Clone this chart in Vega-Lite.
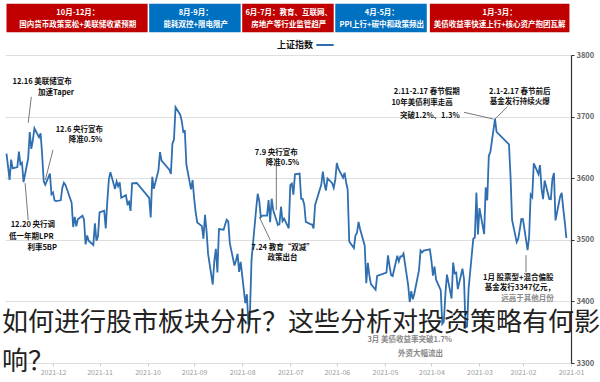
{
  "$schema": "https://vega.github.io/schema/vega-lite/v6.json",
  "width": 566,
  "height": 308,
  "autosize": {"type": "none"},
  "padding": {"left": 5, "top": 55, "right": 29, "bottom": 19},
  "background": "white",
  "config": {"font": "Noto Sans CJK SC", "view": {"stroke": null}},
  "title": {
    "text": ["如何进行股市板块分析？这些分析对投资策略有何影", "响？"],
    "orient": "bottom",
    "anchor": "start",
    "frame": "group",
    "font": "Noto Sans CJK SC",
    "fontSize": 26,
    "fontWeight": "normal",
    "color": "#222222",
    "lineHeight": 39,
    "baseline": "top",
    "offset": 0,
    "dx": -3,
    "dy": -65
  },
  "datasets": {
    "boxes": [
      {"s": "2021-01-02", "e": "2021-04-02", "c": "#c00000"},
      {"s": "2021-04-04", "e": "2021-06-02", "c": "#0070c0"},
      {"s": "2021-06-03", "e": "2021-08-01", "c": "#c00000"},
      {"s": "2021-08-02", "e": "2021-09-30", "c": "#0070c0"},
      {"s": "2021-10-01", "e": "2021-12-31", "c": "#c00000"}
    ],
    "boxtext": [
      {"d": "2021-02-16", "v": 3868, "t": "1月-3月："},
      {"d": "2021-02-16", "v": 3849, "t": "美债收益率快速上行+核心资产抱团瓦解"},
      {"d": "2021-05-03", "v": 3868, "t": "4月-5月："},
      {"d": "2021-05-03", "v": 3849, "t": "PPI上行+碳中和政策频出"},
      {"d": "2021-07-02", "v": 3868, "t": "6月-7月：教育、互联网、"},
      {"d": "2021-07-02", "v": 3849, "t": "房地产等行业监管趋严"},
      {"d": "2021-08-31", "v": 3868, "t": "8月-9月："},
      {"d": "2021-08-31", "v": 3849, "t": "能耗双控+限电限产"},
      {"d": "2021-11-15", "v": 3868, "t": "10月-12月："},
      {"d": "2021-11-15", "v": 3849, "t": "国内货币政策宽松+美联储收紧预期"}
    ],
    "notes": [
      {"d": "2021-12-08", "v": 3756, "t": "12.16 美联储宣布", "c": "#111111"},
      {"d": "2021-11-29", "v": 3738, "t": "加速Taper", "c": "#111111"},
      {"d": "2021-11-14", "v": 3678, "t": "12.6 央行宣布", "c": "#111111"},
      {"d": "2021-11-10", "v": 3662, "t": "降准0.5%", "c": "#111111"},
      {"d": "2021-12-14", "v": 3524, "t": "12.20 央行调", "c": "#111111"},
      {"d": "2021-12-15", "v": 3505, "t": "低一年期LPR", "c": "#111111"},
      {"d": "2021-12-08", "v": 3487, "t": "利率5BP", "c": "#111111"},
      {"d": "2021-07-10", "v": 3641, "t": "7.9 央行宣布", "c": "#111111"},
      {"d": "2021-07-06", "v": 3625, "t": "降准0.5%", "c": "#111111"},
      {"d": "2021-07-06", "v": 3487, "t": "7.24 教育“双减”", "c": "#111111"},
      {"d": "2021-07-06", "v": 3470, "t": "政策出台", "c": "#111111"},
      {"d": "2021-04-04", "v": 3740, "t": "2.11-2.17 春节假期", "c": "#111111"},
      {"d": "2021-04-07", "v": 3722, "t": "10年美债利率走高", "c": "#111111"},
      {"d": "2021-04-02", "v": 3701, "t": "突破1.2%、1.3%", "c": "#111111"},
      {"d": "2021-02-03", "v": 3740, "t": "2.1-2.17 春节前后", "c": "#111111"},
      {"d": "2021-02-03", "v": 3724, "t": "基金发行持续火爆", "c": "#111111"},
      {"d": "2021-02-04", "v": 3438, "t": "1月 股票型+混合偏股", "c": "#111111"},
      {"d": "2021-02-03", "v": 3421, "t": "基金发行3347亿元，", "c": "#111111"},
      {"d": "2021-01-29", "v": 3404, "t": "远高于其他月份", "c": "#888888"},
      {"d": "2021-04-15", "v": 3337, "t": "3月 美债收益率突破1.7%", "c": "#888888"},
      {"d": "2021-04-08", "v": 3315, "t": "外资大幅流出", "c": "#888888"}
    ],
    "leaders": [
      {"d1": "2021-12-15", "v1": 3732, "d2": "2021-12-17", "v2": 3690},
      {"d1": "2021-12-01", "v1": 3646, "d2": "2021-12-06", "v2": 3597},
      {"d1": "2021-12-17", "v1": 3532, "d2": "2021-12-19", "v2": 3592},
      {"d1": "2021-07-10", "v1": 3621, "d2": "2021-07-10", "v2": 3548},
      {"d1": "2021-07-14", "v1": 3500, "d2": "2021-07-21", "v2": 3537},
      {"d1": "2021-03-11", "v1": 3707, "d2": "2021-02-20", "v2": 3696},
      {"d1": "2021-02-11", "v1": 3716, "d2": "2021-02-19", "v2": 3696},
      {"d1": "2021-01-30", "v1": 3475, "d2": "2021-01-30", "v2": 3447}
    ],
    "sse": [
      {"d":"2021-01-04","v":3502.96},{"d":"2021-01-05","v":3528.68},{"d":"2021-01-06","v":3550.88},{"d":"2021-01-07","v":3576.2},{"d":"2021-01-08","v":3570.11},
      {"d":"2021-01-11","v":3531.5},{"d":"2021-01-12","v":3608.34},{"d":"2021-01-13","v":3598.65},{"d":"2021-01-14","v":3565.9},{"d":"2021-01-15","v":3566.38},
      {"d":"2021-01-18","v":3596.22},{"d":"2021-01-19","v":3566.12},{"d":"2021-01-20","v":3583.09},{"d":"2021-01-21","v":3621.26},{"d":"2021-01-22","v":3606.75},
      {"d":"2021-01-25","v":3624.24},{"d":"2021-01-26","v":3569.43},{"d":"2021-01-27","v":3573.34},{"d":"2021-01-28","v":3505.18},{"d":"2021-01-29","v":3483.07},
      {"d":"2021-02-01","v":3533.68},{"d":"2021-02-02","v":3533.72},{"d":"2021-02-03","v":3517.31},{"d":"2021-02-04","v":3501.86},{"d":"2021-02-05","v":3496.33},
      {"d":"2021-02-08","v":3532.44},{"d":"2021-02-09","v":3603.49},{"d":"2021-02-10","v":3655.09},{"d":"2021-02-18","v":3675.36},{"d":"2021-02-19","v":3696.17},
      {"d":"2021-02-22","v":3642.44},{"d":"2021-02-23","v":3636.36},{"d":"2021-02-24","v":3564.08},{"d":"2021-02-25","v":3585.05},{"d":"2021-02-26","v":3509.08},
      {"d":"2021-03-01","v":3551.4},{"d":"2021-03-02","v":3508.59},{"d":"2021-03-03","v":3576.9},{"d":"2021-03-04","v":3503.49},{"d":"2021-03-05","v":3501.99},
      {"d":"2021-03-08","v":3421.41},{"d":"2021-03-09","v":3359.29},{"d":"2021-03-10","v":3357.74},{"d":"2021-03-11","v":3436.83},{"d":"2021-03-12","v":3453.08},
      {"d":"2021-03-15","v":3419.95},{"d":"2021-03-16","v":3446.73},{"d":"2021-03-17","v":3445.55},{"d":"2021-03-18","v":3463.07},{"d":"2021-03-19","v":3404.66},
      {"d":"2021-03-22","v":3443.44},{"d":"2021-03-23","v":3411.51},{"d":"2021-03-24","v":3367.06},{"d":"2021-03-25","v":3363.59},{"d":"2021-03-26","v":3418.33},
      {"d":"2021-03-29","v":3435.3},{"d":"2021-03-30","v":3456.68},{"d":"2021-03-31","v":3441.91},
      {"d":"2021-04-01","v":3466.33},{"d":"2021-04-02","v":3484.39},{"d":"2021-04-06","v":3482.49},{"d":"2021-04-07","v":3479.63},{"d":"2021-04-08","v":3482.56},
      {"d":"2021-04-09","v":3450.68},{"d":"2021-04-12","v":3412.95},{"d":"2021-04-13","v":3403.33},{"d":"2021-04-14","v":3416.64},{"d":"2021-04-15","v":3398.99},
      {"d":"2021-04-16","v":3426.62},{"d":"2021-04-19","v":3477.55},{"d":"2021-04-20","v":3472.94},{"d":"2021-04-21","v":3472.93},{"d":"2021-04-22","v":3465.11},
      {"d":"2021-04-23","v":3474.17},{"d":"2021-04-26","v":3441.17},{"d":"2021-04-27","v":3442.61},{"d":"2021-04-28","v":3457.07},{"d":"2021-04-29","v":3474.9},
      {"d":"2021-04-30","v":3446.86},
      {"d":"2021-05-06","v":3441.28},{"d":"2021-05-07","v":3418.87},{"d":"2021-05-10","v":3427.99},{"d":"2021-05-11","v":3441.85},{"d":"2021-05-12","v":3462.75},
      {"d":"2021-05-13","v":3429.54},{"d":"2021-05-14","v":3490.38},{"d":"2021-05-17","v":3517.62},{"d":"2021-05-18","v":3529.01},{"d":"2021-05-19","v":3510.96},
      {"d":"2021-05-20","v":3506.94},{"d":"2021-05-21","v":3486.56},{"d":"2021-05-24","v":3497.28},{"d":"2021-05-25","v":3581.34},{"d":"2021-05-26","v":3593.36},
      {"d":"2021-05-27","v":3608.85},{"d":"2021-05-28","v":3600.78},{"d":"2021-05-31","v":3615.48},
      {"d":"2021-06-01","v":3624.71},{"d":"2021-06-02","v":3597.14},{"d":"2021-06-03","v":3584.22},{"d":"2021-06-04","v":3591.84},{"d":"2021-06-07","v":3599.54},
      {"d":"2021-06-08","v":3580.11},{"d":"2021-06-09","v":3591.4},{"d":"2021-06-10","v":3610.86},{"d":"2021-06-11","v":3589.75},{"d":"2021-06-15","v":3556.56},
      {"d":"2021-06-16","v":3518.33},{"d":"2021-06-17","v":3525.1},{"d":"2021-06-18","v":3525.6},{"d":"2021-06-21","v":3529.18},{"d":"2021-06-22","v":3557.41},
      {"d":"2021-06-23","v":3566.22},{"d":"2021-06-24","v":3566.65},{"d":"2021-06-25","v":3607.56},{"d":"2021-06-28","v":3606.37},{"d":"2021-06-29","v":3573.18},
      {"d":"2021-06-30","v":3591.2},
      {"d":"2021-07-01","v":3588.78},{"d":"2021-07-02","v":3518.76},{"d":"2021-07-05","v":3534.32},{"d":"2021-07-06","v":3530.26},{"d":"2021-07-07","v":3553.72},
      {"d":"2021-07-08","v":3525.5},{"d":"2021-07-09","v":3524.09},{"d":"2021-07-12","v":3547.84},{"d":"2021-07-13","v":3566.73},{"d":"2021-07-14","v":3528.5},
      {"d":"2021-07-15","v":3564.59},{"d":"2021-07-16","v":3539.3},{"d":"2021-07-19","v":3539.12},{"d":"2021-07-20","v":3536.79},{"d":"2021-07-21","v":3562.7},
      {"d":"2021-07-22","v":3574.73},{"d":"2021-07-23","v":3550.4},{"d":"2021-07-26","v":3467.44},{"d":"2021-07-27","v":3381.18},{"d":"2021-07-28","v":3361.59},
      {"d":"2021-07-29","v":3411.72},{"d":"2021-07-30","v":3397.36},
      {"d":"2021-08-02","v":3464.29},{"d":"2021-08-03","v":3447.99},{"d":"2021-08-04","v":3477.22},{"d":"2021-08-05","v":3466.56},{"d":"2021-08-06","v":3458.23},
      {"d":"2021-08-09","v":3494.63},{"d":"2021-08-10","v":3529.93},{"d":"2021-08-11","v":3532.62},{"d":"2021-08-12","v":3524.74},{"d":"2021-08-13","v":3516.3},
      {"d":"2021-08-16","v":3517.35},{"d":"2021-08-17","v":3446.98},{"d":"2021-08-18","v":3485.29},{"d":"2021-08-19","v":3465.55},{"d":"2021-08-20","v":3427.33},
      {"d":"2021-08-23","v":3477.13},{"d":"2021-08-24","v":3514.47},{"d":"2021-08-25","v":3540.38},{"d":"2021-08-26","v":3501.66},{"d":"2021-08-27","v":3522.16},
      {"d":"2021-08-30","v":3528.15},{"d":"2021-08-31","v":3543.94},
      {"d":"2021-09-01","v":3567.1},{"d":"2021-09-02","v":3597.04},{"d":"2021-09-03","v":3581.73},{"d":"2021-09-06","v":3621.86},{"d":"2021-09-07","v":3676.59},
      {"d":"2021-09-08","v":3675.19},{"d":"2021-09-09","v":3693.13},{"d":"2021-09-10","v":3703.11},{"d":"2021-09-13","v":3715.37},{"d":"2021-09-14","v":3662.6},
      {"d":"2021-09-15","v":3656.22},{"d":"2021-09-16","v":3607.09},{"d":"2021-09-17","v":3613.97},{"d":"2021-09-22","v":3628.49},{"d":"2021-09-23","v":3642.22},
      {"d":"2021-09-24","v":3613.07},{"d":"2021-09-27","v":3582.83},{"d":"2021-09-28","v":3602.22},{"d":"2021-09-29","v":3536.29},{"d":"2021-09-30","v":3568.17},
      {"d":"2021-10-08","v":3592.17},{"d":"2021-10-11","v":3591.71},{"d":"2021-10-12","v":3546.94},{"d":"2021-10-13","v":3561.76},{"d":"2021-10-14","v":3558.28},
      {"d":"2021-10-15","v":3572.37},{"d":"2021-10-18","v":3568.14},{"d":"2021-10-19","v":3593.15},{"d":"2021-10-20","v":3587.0},{"d":"2021-10-21","v":3594.78},
      {"d":"2021-10-22","v":3582.6},{"d":"2021-10-25","v":3609.86},{"d":"2021-10-26","v":3597.64},{"d":"2021-10-27","v":3562.31},{"d":"2021-10-28","v":3518.42},
      {"d":"2021-10-29","v":3547.34},
      {"d":"2021-11-01","v":3544.48},{"d":"2021-11-02","v":3505.63},{"d":"2021-11-03","v":3498.54},{"d":"2021-11-04","v":3526.87},{"d":"2021-11-05","v":3491.57},
      {"d":"2021-11-08","v":3498.63},{"d":"2021-11-09","v":3507.0},{"d":"2021-11-10","v":3492.46},{"d":"2021-11-11","v":3532.79},{"d":"2021-11-12","v":3539.1},
      {"d":"2021-11-15","v":3533.3},{"d":"2021-11-16","v":3521.79},{"d":"2021-11-17","v":3537.37},{"d":"2021-11-18","v":3520.71},{"d":"2021-11-19","v":3560.37},
      {"d":"2021-11-22","v":3582.08},{"d":"2021-11-23","v":3589.09},{"d":"2021-11-24","v":3592.7},{"d":"2021-11-25","v":3584.18},{"d":"2021-11-26","v":3564.09},
      {"d":"2021-11-29","v":3562.7},{"d":"2021-11-30","v":3563.89},
      {"d":"2021-12-01","v":3576.89},{"d":"2021-12-02","v":3573.84},{"d":"2021-12-03","v":3607.43},{"d":"2021-12-06","v":3589.31},{"d":"2021-12-07","v":3595.09},
      {"d":"2021-12-08","v":3637.57},{"d":"2021-12-09","v":3673.04},{"d":"2021-12-10","v":3666.35},{"d":"2021-12-13","v":3681.08},{"d":"2021-12-14","v":3661.53},
      {"d":"2021-12-15","v":3647.63},{"d":"2021-12-16","v":3675.02},{"d":"2021-12-17","v":3632.36},{"d":"2021-12-20","v":3593.6},{"d":"2021-12-21","v":3625.13},
      {"d":"2021-12-22","v":3622.62},{"d":"2021-12-23","v":3643.34},{"d":"2021-12-24","v":3618.05},{"d":"2021-12-27","v":3615.97},{"d":"2021-12-28","v":3630.11},
      {"d":"2021-12-29","v":3597.0},{"d":"2021-12-30","v":3619.19},{"d":"2021-12-31","v":3639.78}
    ]
  },
  "layer": [
    {
      "data": {"name": "sse"},
      "mark": {"type": "line", "strokeWidth": 1.8, "clip": false},
      "encoding": {
        "x": {
          "field": "d", "type": "temporal",
          "scale": {"type": "utc", "reverse": true, "domain": [{"year": 2021, "month": 1, "date": 1, "utc": true}, {"year": 2021, "month": 12, "date": 31, "hours": 23, "utc": true}]},
          "axis": {
            "title": null, "format": "%Y-%m",
            "tickCount": {"interval": "month", "step": 1},
            "domain": false, "grid": false, "ticks": true, "tickSize": 3, "tickColor": "#cccccc",
            "labelFontSize": 7, "labelColor": "#999999", "labelPadding": 2, "labelFlush": false, "labelOverlap": false
          }
        },
        "y": {
          "field": "v", "type": "quantitative",
          "scale": {"domain": [3300, 3800], "zero": false, "nice": false},
          "axis": {
            "title": null, "orient": "right", "values": [3300, 3400, 3500, 3600, 3700, 3800], "format": "d",
            "grid": true, "gridColor": "#dedede", "gridWidth": 1,
            "domainColor": "#333333", "domainWidth": 1.2, "tickColor": "#333333", "tickSize": 3,
            "labelFontSize": 7.5, "labelFontWeight": "bold", "labelColor": "#666666", "labelPadding": 2
          }
        },
        "color": {
          "datum": "上证指数", "type": "nominal",
          "scale": {"range": ["#2f6fb0"]},
          "legend": {
            "title": null, "orient": "none", "legendX": 310, "legendY": -20,
            "symbolType": "stroke", "symbolStrokeWidth": 2, "symbolSize": 300,
            "labelFontSize": 9, "labelFontWeight": "bold", "labelColor": "#111111",
            "labelAlign": "right", "labelOffset": -22
          }
        }
      }
    },
    {
      "data": {"name": "boxes"},
      "mark": {"type": "rect", "clip": false},
      "encoding": {
        "x": {"field": "s", "type": "temporal"},
        "x2": {"field": "e"},
        "y": {"datum": 3883, "type": "quantitative"},
        "y2": {"datum": 3837},
        "fill": {"field": "c", "type": "nominal", "scale": null, "legend": null}
      }
    },
    {
      "data": {"name": "boxtext"},
      "mark": {"type": "text", "clip": false, "color": "white", "fontSize": 7.5, "fontWeight": "bold", "baseline": "middle", "align": "center"},
      "encoding": {
        "x": {"field": "d", "type": "temporal"},
        "y": {"field": "v", "type": "quantitative"},
        "text": {"field": "t"}
      }
    },
    {
      "data": {"name": "leaders"},
      "mark": {"type": "rule", "clip": false, "color": "#555555", "strokeWidth": 0.8},
      "encoding": {
        "x": {"field": "d1", "type": "temporal"},
        "x2": {"field": "d2"},
        "y": {"field": "v1", "type": "quantitative"},
        "y2": {"field": "v2"}
      }
    },
    {
      "data": {"name": "notes"},
      "mark": {"type": "text", "clip": false, "fontSize": 7.5, "fontWeight": "bold", "baseline": "middle", "align": "center"},
      "encoding": {
        "x": {"field": "d", "type": "temporal"},
        "y": {"field": "v", "type": "quantitative"},
        "text": {"field": "t"},
        "fill": {"field": "c", "type": "nominal", "scale": null, "legend": null}
      }
    }
  ]
}
